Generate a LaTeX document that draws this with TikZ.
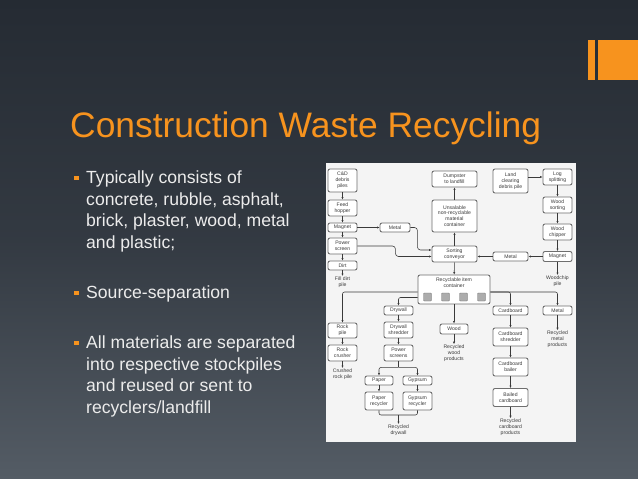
\documentclass[tikz,border=0pt]{standalone}
\usepackage{fontspec}
\setmainfont{Liberation Sans}
\usetikzlibrary{arrows.meta}
\definecolor{accent}{HTML}{F7931E}
\definecolor{bgtop}{HTML}{252B33}
\definecolor{bgbot}{HTML}{545C65}
\definecolor{bullettext}{HTML}{ECECEC}
\definecolor{panel}{HTML}{F4F4F4}
\definecolor{ink}{HTML}{3A3A3A}
\definecolor{edge}{HTML}{6E6E6E}
\tikzset{
 box/.style={draw=edge, line width=0.9pt, fill=white, rounded corners=2pt, inner sep=0.5pt, align=center, text=ink, font=\fontsize{5.1}{5.8}\selectfont},
 lbl/.style={inner sep=0.5pt, align=center, text=ink, font=\fontsize{5.1}{5.8}\selectfont},
 arr/.style={draw=ink, line width=0.55pt, -{Latex[length=2.5pt,width=2.3pt]}},
 lin/.style={draw=ink, line width=0.55pt},
 sq/.style={draw=edge, fill=gray!65, minimum size=8pt, inner sep=0, rounded corners=0.8pt},
 bl/.style={anchor=base west, inner sep=0, text=bullettext, font=\fontsize{17.6}{21}\selectfont},
 bsq/.style={fill=accent, minimum size=4.7pt, inner sep=0},
}
\begin{document}
\begin{tikzpicture}[x=1pt,y=-1pt]
\useasboundingbox (0,0) rectangle (638,479);
\shade[top color=bgtop, bottom color=bgbot, middle color=bgtop!70!bgbot] (0,0) rectangle (638,479);
% top-right bars
\fill[accent] (588,40) rectangle (594.7,80);
\fill[accent] (597.7,40) rectangle (638,80);
% title
\node[anchor=base west, inner sep=0, text=accent, font=\fontsize{35.4}{40}\selectfont] (title) at (70,137) {Construction Waste Recycling};
% bullets
\node[bsq] (s1) at (76.8,178) {};
\node[bl] (b1a) at (86,183.3) {Typically consists of};
\node[bl] (b1b) at (86,205) {concrete, rubble, asphalt,};
\node[bl] (b1c) at (86,226.7) {brick, plaster, wood, metal};
\node[bl] (b1d) at (86,248.3) {and plastic;};
\node[bsq] (s2) at (76.8,293) {};
\node[bl] (b2a) at (86,298.3) {Source-separation};
\node[bsq] (s3) at (76.8,343) {};
\node[bl] (b3a) at (86,348.3) {All materials are separated};
\node[bl] (b3b) at (86,370) {into respective stockpiles};
\node[bl] (b3c) at (86,391.7) {and reused or sent to};
\node[bl] (b3d) at (86,413.3) {recyclers/landfill};
% panel
\fill[panel] (326,163) rectangle (576,442);
% left column
\node[box, minimum width=29pt, minimum height=23pt] (cd) at (342.5,180.5) {C\&D\\debris\\piles};
\node[box, minimum width=29pt, minimum height=16pt] (feed) at (342.5,208) {Feed\\hopper};
\node[box, minimum width=29pt, minimum height=9pt] (mag1) at (342.5,227.5) {Magnet};
\node[box, minimum width=29pt, minimum height=16pt] (pscreen) at (342.5,246) {Power\\screen};
\node[box, minimum width=29pt, minimum height=9pt] (dirt) at (342.5,265.5) {Dirt};
\node[lbl] (filldirt) at (342.5,282) {Fill dirt\\pile};
\node[box, minimum width=30pt, minimum height=9pt] (metal1) at (395,227.5) {Metal};
% middle column
\node[box, minimum width=45pt, minimum height=16pt] (dump) at (454.5,179) {Dumpster\\to landfill};
\node[box, minimum width=45pt, minimum height=32pt] (unsal) at (454.5,216) {Unsalable\\non-recyclable\\material\\container};
\node[box, minimum width=45pt, minimum height=16pt] (sort) at (454.5,254) {Sorting\\conveyor};
\node[box, minimum width=35pt, minimum height=9pt] (metal2) at (510.5,256.5) {Metal};
% right column
\node[box, minimum width=35pt, minimum height=24pt] (land) at (510.5,181) {Land\\clearing\\debris pile};
\node[box, minimum width=29pt, minimum height=16pt] (log) at (557.5,177) {Log\\splitting};
\node[box, minimum width=29pt, minimum height=16pt] (wsort) at (557.5,205) {Wood\\sorting};
\node[box, minimum width=29pt, minimum height=16pt] (wchip) at (557.5,232) {Wood\\chipper};
\node[box, minimum width=29pt, minimum height=10pt] (mag2) at (557.5,256.5) {Magnet};
\node[lbl] (woodchip) at (557.5,281) {Woodchip\\pile};
% recyclable container
\node[box, minimum width=72pt, minimum height=29pt] (rc) at (454,289.5) {};
\node[lbl] (rct) at (454,282.5) {Recyclable item\\container};
\node[sq] (q1) at (427.5,297) {};
\node[sq] (q2) at (445.5,297) {};
\node[sq] (q3) at (463.5,297) {};
\node[sq] (q4) at (481.5,297) {};
% lower branches
\node[box, minimum width=29pt, minimum height=15pt] (rock) at (342.5,330.5) {Rock\\pile};
\node[box, minimum width=29pt, minimum height=16pt] (crusher) at (342.5,353) {Rock\\crusher};
\node[lbl] (crushed) at (342.5,374) {Crushed\\rock pile};
\node[box, minimum width=29pt, minimum height=9pt] (drywall) at (398.5,310.5) {Drywall};
\node[box, minimum width=29pt, minimum height=16pt] (dshred) at (398.5,330) {Drywall\\shredder};
\node[box, minimum width=29pt, minimum height=16pt] (pscreens) at (398.5,353) {Power\\screens};
\node[box, minimum width=28pt, minimum height=9pt] (paper) at (379,380.5) {Paper};
\node[box, minimum width=29pt, minimum height=9pt] (gypsum) at (417.5,380.5) {Gypsum};
\node[box, minimum width=28pt, minimum height=18pt] (precyc) at (379,401) {Paper\\recycler};
\node[box, minimum width=29pt, minimum height=18pt] (grecyc) at (417.5,401) {Gypsum\\recycler};
\node[lbl] (recdry) at (398.5,430) {Recycled\\drywall};
\node[box, minimum width=28pt, minimum height=10pt] (wood) at (454,329) {Wood};
\node[lbl] (recwood) at (454,353) {Recycled\\wood\\products};
\node[box, minimum width=35pt, minimum height=9pt] (cardboard) at (510.5,310.5) {Cardboard};
\node[box, minimum width=35pt, minimum height=18pt] (cshred) at (510.5,337) {Cardboard\\shredder};
\node[box, minimum width=35pt, minimum height=18pt] (cbailer) at (510.5,367) {Cardboard\\bailer};
\node[box, minimum width=35pt, minimum height=18pt] (bailed) at (510.5,397.5) {Bailed\\cardboard};
\node[lbl] (reccard) at (510.5,427) {Recycled\\cardboard\\products};
\node[box, minimum width=29pt, minimum height=9pt] (metal3) at (557.5,310.5) {Metal};
\node[lbl] (recmetal) at (557.5,339) {Recycled\\metal\\products};
% connectors
\draw[arr] (cd) -- (feed);
\draw[arr] (feed) -- (mag1);
\draw[arr] (mag1) -- (pscreen);
\draw[arr] (pscreen) -- (dirt);
\draw[arr] (dirt) -- (filldirt);
\draw[arr] (mag1) -- (metal1);
\draw[arr, rounded corners=3pt] (metal1.east) -- ++(7,0) |- ([yshift=4pt]sort.west);
\draw[arr, rounded corners=3pt] (pscreen.east) -- ++(38,0) |- ([yshift=-2.5pt]sort.west);
\draw[arr] (sort) -- (unsal);
\draw[arr] (unsal) -- (dump);
\draw[arr] (land.east |- log) -- (log.west);
\draw[arr] (log) -- (wsort);
\draw[arr] (wsort) -- (wchip);
\draw[arr] (wchip) -- (mag2);
\draw[arr] (mag2) -- (woodchip);
\draw[arr] (mag2.west) -- (metal2.east);
\draw[arr] (metal2.west) -- (metal2.west -| sort.east);
\draw[arr] (sort) -- (rc);
\draw[arr, rounded corners=2pt] ([yshift=-2.5pt]rc.west) -| (rock.north);
\draw[arr, rounded corners=2pt] ([yshift=-8pt]rc.west) -| (drywall.north);
\draw[arr] (rc) -- (wood);
\draw[arr, rounded corners=2pt] ([yshift=-2.5pt]rc.east) -| (cardboard.north);
\draw[arr, rounded corners=2pt] ([yshift=-2.5pt]rc.east) -| (metal3.north);
\draw[arr] (rock) -- (crusher);
\draw[arr] (crusher) -- (crushed);
\draw[arr] (drywall) -- (dshred);
\draw[arr] (dshred) -- (pscreens);
\draw[lin] (pscreens.south) -- ++(0,6) coordinate (fk);
\draw[arr, rounded corners=2pt] (fk) -| (paper.north);
\draw[arr, rounded corners=2pt] (fk) -| (gypsum.north);
\draw[arr] (paper) -- (precyc);
\draw[arr] (gypsum) -- (grecyc);
\coordinate (jn) at (398.5,415);
\draw[lin, rounded corners=2pt] (precyc.south) |- (jn) -| (grecyc.south);
\draw[arr] (jn) -- (recdry.north);
\draw[arr] (wood) -- (recwood);
\draw[arr] (cardboard) -- (cshred);
\draw[arr] (cshred) -- (cbailer);
\draw[arr] (cbailer) -- (bailed);
\draw[arr] (bailed) -- (reccard);
\draw[arr] (metal3) -- (recmetal);
\end{tikzpicture}
\end{document}
